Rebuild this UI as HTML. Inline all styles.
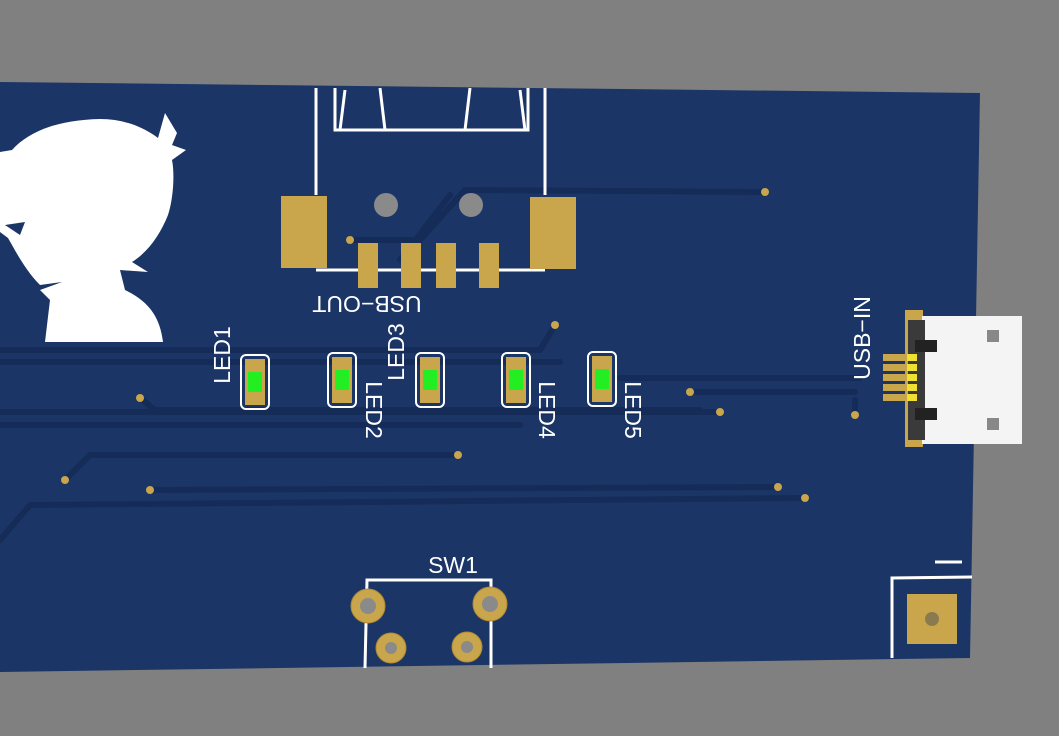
<!DOCTYPE html>
<html><head><style>html,body{margin:0;padding:0;background:#808080;}svg{display:block}</style></head>
<body>
<svg width="1059" height="736" viewBox="0 0 1059 736" xmlns="http://www.w3.org/2000/svg" font-family="Liberation Sans, sans-serif">
<rect width="1059" height="736" fill="#808080"/>
<polygon points="0,82 980,93 970,658 0,672" fill="#1b3566"/>
<g fill="none" stroke="#152c58" stroke-width="6" stroke-linecap="round">
<path d="M0,350 L300,350 L540,350 L555,325"/>
<path d="M0,362 L560,362"/>
<path d="M0,412 L720,412"/>
<path d="M0,425 L520,425"/>
<path d="M140,398 L155,410 L700,410"/>
<path d="M620,378 L860,378"/>
<path d="M690,392 L855,392"/>
<path d="M855,400 L855,415"/>
<path d="M65,480 L90,455 L458,455"/>
<path d="M150,490 L778,487"/>
<path d="M0,540 L30,505 L805,498"/>
<path d="M350,240 L420,240 L465,190 L765,192"/>
<path d="M400,260 L450,195"/>
</g>
<g fill="#c9a54c">
<circle cx="765" cy="192" r="4"/><circle cx="458" cy="455" r="4"/><circle cx="65" cy="480" r="4"/>
<circle cx="150" cy="490" r="4"/><circle cx="778" cy="487" r="4"/><circle cx="805" cy="498" r="4"/>
<circle cx="555" cy="325" r="4"/><circle cx="140" cy="398" r="4"/><circle cx="720" cy="412" r="4"/>
<circle cx="855" cy="415" r="4"/><circle cx="690" cy="392" r="4"/><circle cx="350" cy="240" r="4"/>
</g>
<!-- silhouette -->
<path d="M0,152 L12,150 C30,130 60,120 100,119 C125,119 145,128 158,138 L165,113 L177,133 L172,145 L186,150 L172,160 C175,175 173,200 168,215 C160,235 148,252 132,262 L148,272 L120,270 L125,290 C150,302 160,318 163,342 L45,342 L50,300 L40,290 L62,282 L40,285 C25,270 15,250 8,238 L0,232 Z" fill="#ffffff"/>
<path d="M5,225 L25,222 L20,235 Z" fill="#1b3566"/>
<g stroke="#ffffff" stroke-width="3" fill="none">
<path d="M316,88 L316,195 M545,88 L545,195 M316,270 L545,270"/>
<path d="M335,88 L335,130 L528,130 L528,88"/>
<path d="M380,88 L385,130 M470,88 L465,130 M345,90 L340,130 M520,90 L525,130"/>
</g>
<circle cx="386" cy="205" r="12" fill="#8a8a8a"/>
<circle cx="471" cy="205" r="12" fill="#8a8a8a"/>
<g fill="#c9a54c">
<rect x="281" y="196" width="46" height="72"/>
<rect x="530" y="197" width="46" height="72"/>
<rect x="358" y="243" width="20" height="45"/>
<rect x="401" y="243" width="20" height="45"/>
<rect x="436" y="243" width="20" height="45"/>
<rect x="479" y="243" width="20" height="45"/>
</g>
<text transform="translate(367,302) rotate(180)" text-anchor="middle" font-size="23" fill="#fff" dominant-baseline="middle">USB−OUT</text>
<g>
<g transform="translate(255,382)"><rect x="-14" y="-27" width="28" height="54" rx="5" fill="none" stroke="#fff" stroke-width="2"/><rect x="-10" y="-23" width="20" height="46" fill="#c9a54c"/><rect x="-7" y="-10" width="14" height="20" fill="#22ee22"/></g>
<g transform="translate(342,380)"><rect x="-14" y="-27" width="28" height="54" rx="5" fill="none" stroke="#fff" stroke-width="2"/><rect x="-10" y="-23" width="20" height="46" fill="#c9a54c"/><rect x="-7" y="-10" width="14" height="20" fill="#22ee22"/></g>
<g transform="translate(430,380)"><rect x="-14" y="-27" width="28" height="54" rx="5" fill="none" stroke="#fff" stroke-width="2"/><rect x="-10" y="-23" width="20" height="46" fill="#c9a54c"/><rect x="-7" y="-10" width="14" height="20" fill="#22ee22"/></g>
<g transform="translate(516,380)"><rect x="-14" y="-27" width="28" height="54" rx="5" fill="none" stroke="#fff" stroke-width="2"/><rect x="-10" y="-23" width="20" height="46" fill="#c9a54c"/><rect x="-7" y="-10" width="14" height="20" fill="#22ee22"/></g>
<g transform="translate(602,379)"><rect x="-14" y="-27" width="28" height="54" rx="5" fill="none" stroke="#fff" stroke-width="2"/><rect x="-10" y="-23" width="20" height="46" fill="#c9a54c"/><rect x="-7" y="-10" width="14" height="20" fill="#22ee22"/></g>
</g>
<g font-size="23" fill="#fff" text-anchor="middle" dominant-baseline="middle">
<text transform="translate(224,355) rotate(-90)">LED1</text>
<text transform="translate(398,352) rotate(-90)">LED3</text>
<text transform="translate(372,410) rotate(90)">LED2</text>
<text transform="translate(545,410) rotate(90)">LED4</text>
<text transform="translate(631,410) rotate(90)">LED5</text>
<text transform="translate(864,338) rotate(-90)">USB−IN</text>
<text x="453" y="567">SW1</text>
</g>
<!-- USB-IN -->
<rect x="905" y="310" width="18" height="137" fill="#c9a54c"/>
<rect x="922" y="316" width="100" height="128" fill="#f4f4f4"/>
<rect x="908" y="320" width="17" height="120" fill="#3a3a3a"/>
<rect x="915" y="340" width="22" height="12" fill="#222"/>
<rect x="915" y="408" width="22" height="12" fill="#222"/>
<g fill="#c9a54c"><rect x="883" y="354" width="34" height="7"/><rect x="883" y="364" width="34" height="7"/><rect x="883" y="374" width="34" height="7"/><rect x="883" y="384" width="34" height="7"/><rect x="883" y="394" width="34" height="7"/></g>
<g fill="#f0e030"><rect x="907" y="354" width="10" height="7"/><rect x="907" y="364" width="10" height="7"/><rect x="907" y="374" width="10" height="7"/><rect x="907" y="384" width="10" height="7"/><rect x="907" y="394" width="10" height="7"/></g>
<rect x="987" y="330" width="12" height="12" fill="#888"/><rect x="987" y="418" width="12" height="12" fill="#888"/>
<path d="M365,668 L367,580 L491,580 L491,668" stroke="#fff" stroke-width="3" fill="none"/>
<g fill="#c9a54c" stroke="#b08a30"><circle cx="368" cy="606" r="17"/><circle cx="490" cy="604" r="17"/><circle cx="391" cy="648" r="15"/><circle cx="467" cy="647" r="15"/></g>
<g fill="#8a8a8a"><circle cx="368" cy="606" r="8"/><circle cx="490" cy="604" r="8"/><circle cx="391" cy="648" r="6"/><circle cx="467" cy="647" r="6"/></g>
<path d="M892,658 L892,578 L972,577" stroke="#fff" stroke-width="3" fill="none"/>
<line x1="935" y1="562" x2="962" y2="562" stroke="#fff" stroke-width="3"/>
<rect x="907" y="594" width="50" height="50" fill="#c9a54c"/>
<circle cx="932" cy="619" r="7" fill="#8a7a50"/>
</svg>
</body></html>
